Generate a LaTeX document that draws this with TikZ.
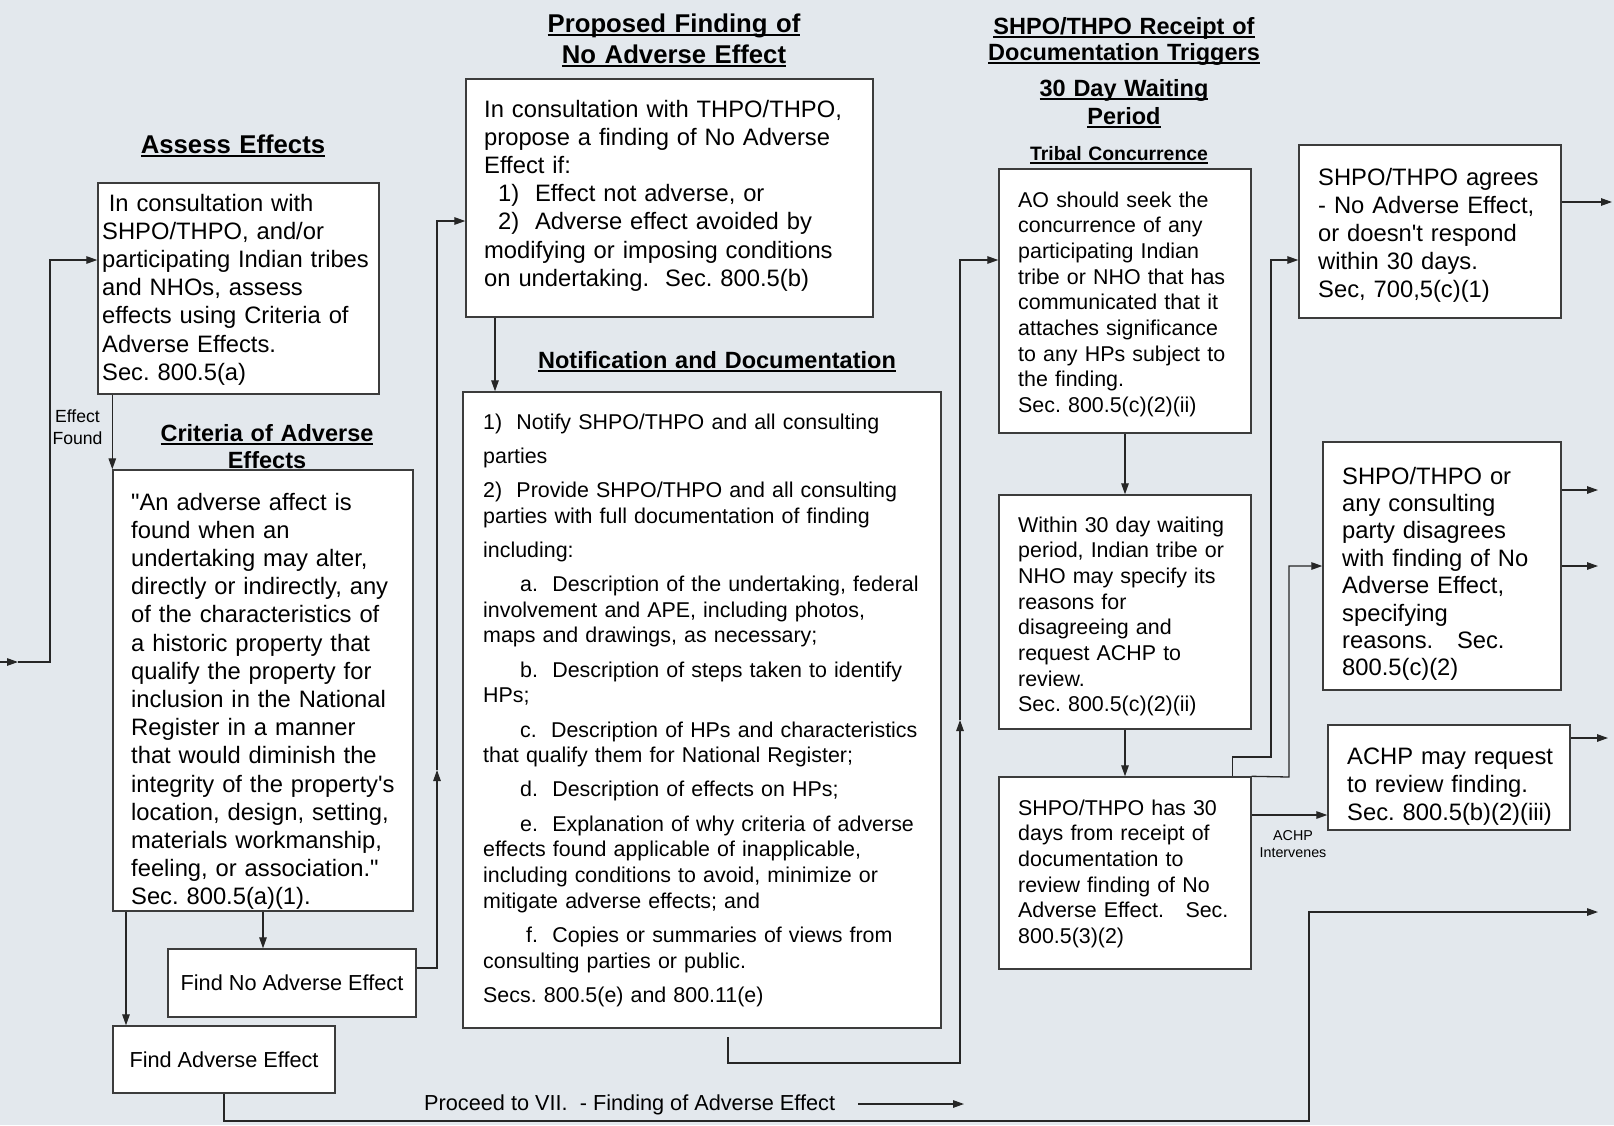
\documentclass[tikz,border=0pt]{standalone}
\usepackage{fontspec}
\setmainfont{Liberation Sans}
\usetikzlibrary{arrows.meta}
\definecolor{bgc}{RGB}{227,232,237}
\definecolor{edge}{RGB}{60,60,60}
\newlength\hulw
% underlined heading line, rule set close to the baseline
\newcommand\hul[1]{\leavevmode\settowidth{\hulw}{#1}\rlap{\rule[-3.6pt]{\hulw}{1.9pt}}#1}
\newcommand\sq{\textquotesingle}
\newcommand\dq{\textquotedbl}

\begin{document}
\frenchspacing
\begin{tikzpicture}[x=1pt,y=-1pt,
  box/.style={draw=edge, line width=1.4pt, fill=white, rectangle, inner sep=0pt},
  arr/.style={line width=1.3pt, draw=black!85, -{Triangle[length=11pt,width=7.5pt]}},
  body/.style={anchor=base west, inner sep=0pt, align=left, font=\fontsize{23.75}{28.2}\selectfont},
  small/.style={anchor=base west, inner sep=0pt, align=left, font=\fontsize{21.4}{25.7}\selectfont},
  head/.style={anchor=base, inner sep=0pt, align=center, text width=420pt, font=\fontsize{23.5}{26.6}\selectfont\bfseries},
  bighead/.style={anchor=base, inner sep=0pt, align=center, text width=420pt, font=\fontsize{25.7}{31}\selectfont\bfseries},
  note/.style={anchor=base, inner sep=0pt, align=center, text width=120pt},
]
% canvas
\fill[bgc] (0,0) rectangle (1614,1125);
\useasboundingbox (0,0) rectangle (1614,1125);

% ---------- headings ----------
\node[bighead] (assessH) at (233,153) {\hul{Assess Effects}};
\node[bighead] (propH) at (674,32) {\hul{Proposed Finding of}\\\hul{No Adverse Effect}};
\node[head] (critH) at (267,441.7) {\hul{Criteria of Adverse}\\\hul{Effects}};
\node[head] (notifH) at (717,368.3) {\hul{Notification and Documentation}};
\node[head, font=\fontsize{23.5}{26}\selectfont\bfseries] (recH) at (1124,34) {\hul{SHPO/THPO Receipt of}\\\hul{Documentation Triggers}};
\node[head, font=\fontsize{23.5}{27.3}\selectfont\bfseries] (waitH) at (1124,96.7) {\hul{30 Day Waiting}\\\hul{Period}};
\node[head, font=\fontsize{19.4}{23}\selectfont\bfseries] (tribH) at (1119,160.7) {\hul{Tribal Concurrence}};

% ---------- boxes ----------
\node[box, minimum width=281pt, minimum height=211pt] (box1) at (238.5,288.5) {};
\node[box, minimum width=300pt, minimum height=441pt] (crit) at (263,690.5) {};
\node[box, minimum width=248pt, minimum height=68pt, font=\fontsize{21.7}{25.7}\selectfont] (fna) at (292,983) {Find No Adverse Effect};
\node[box, minimum width=222pt, minimum height=67pt, font=\fontsize{21.7}{25.7}\selectfont] (fa) at (224,1059.5) {Find Adverse Effect};
\node[box, minimum width=407pt, minimum height=238pt] (prop) at (669.5,198) {};
\node[box, minimum width=478pt, minimum height=636pt] (notif) at (702,710) {};
\node[box, minimum width=252pt, minimum height=264pt] (tribal) at (1125,301) {};
\node[box, minimum width=252pt, minimum height=234pt] (within) at (1125,612) {};
\node[box, minimum width=252pt, minimum height=192pt] (box30) at (1125,873) {};
\node[box, minimum width=262pt, minimum height=173pt] (agrees) at (1430,231.5) {};
\node[box, minimum width=238pt, minimum height=248pt] (disagree) at (1442,566) {};
\node[box, minimum width=242pt, minimum height=105pt] (achp) at (1449,777.5) {};

% ---------- box texts ----------
\node[body, text width=272pt] (box1T) at (102,211) {\hspace*{6.6pt}In consultation with\\
SHPO/THPO, and/or\\
participating Indian tribes\\
and NHOs, assess\\
effects using Criteria of\\
Adverse Effects.\\
Sec. 800.5(a)};

\node[body, text width=276pt] (critT) at (131,510) {\dq An adverse affect is\\
found when an\\
undertaking may alter,\\
directly or indirectly, any\\
of the characteristics of\\
a historic property that\\
qualify the property for\\
inclusion in the National\\
Register in a manner\\
that would diminish the\\
integrity of the property\sq s\\
location, design, setting,\\
materials workmanship,\\
feeling, or association.\dq\\
Sec. 800.5(a)(1).};

\node[body, text width=385pt] (propT) at (484,117) {In consultation with THPO/THPO,\\
propose a finding of No Adverse\\
Effect if:\\
\hspace*{14pt}1)\ \ Effect not adverse, or\\
\hspace*{14pt}2)\ \ Adverse effect avoided by\\
modifying or imposing conditions\\
on undertaking.\ \ Sec. 800.5(b)};

\node[small, text width=455pt] (notifT) at (483,429) {1)\ \ Notify SHPO/THPO and all consulting\\[8.5pt]
parties\\[8.5pt]
2)\ \ Provide SHPO/THPO and all consulting\\
parties with full documentation of finding\\[8.5pt]
including:\\[8.5pt]
\hspace*{37pt}a.\ \ Description of the undertaking, federal\\
involvement and APE, including photos,\\
maps and drawings, as necessary;\\[8.5pt]
\hspace*{37pt}b.\ \ Description of steps taken to identify\\
HPs;\\[8.5pt]
\hspace*{37pt}c.\ \ Description of HPs and characteristics\\
that qualify them for National Register;\\[8.5pt]
\hspace*{37pt}d.\ \ Description of effects on HPs;\\[8.5pt]
\hspace*{37pt}e.\ \ Explanation of why criteria of adverse\\
effects found applicable of inapplicable,\\
including conditions to avoid, minimize or\\
mitigate adverse effects; and\\[8.5pt]
\hspace*{43pt}f.\ \ Copies or summaries of views from\\
consulting parties or public.\\[8.5pt]
Secs. 800.5(e) and 800.11(e)};

\node[small, text width=230pt] (tribalT) at (1018,207) {AO should seek the\\
concurrence of any\\
participating Indian\\
tribe or NHO that has\\
communicated that it\\
attaches significance\\
to any HPs subject to\\
the finding.\\
Sec. 800.5(c)(2)(ii)};

\node[small, text width=230pt] (withinT) at (1018,532) {Within 30 day waiting\\
period, Indian tribe or\\
NHO may specify its\\
reasons for\\
disagreeing and\\
request ACHP to\\
review.\\
Sec. 800.5(c)(2)(ii)};

\node[small, text width=230pt] (box30T) at (1018,815) {SHPO/THPO has 30\\
days from receipt of\\
documentation to\\
review finding of No\\
Adverse Effect.\ \ \ Sec.\\
800.5(3)(2)};

\node[body, font=\fontsize{23.75}{28}\selectfont, text width=240pt] (agreesT) at (1318,185) {SHPO/THPO agrees\\
- No Adverse Effect,\\
or doesn\sq t respond\\
within 30 days.\\
Sec, 700,5(c)(1)};

\node[body, font=\fontsize{23.75}{27.4}\selectfont, text width=216pt] (disagreeT) at (1342,484) {SHPO/THPO or\\
any consulting\\
party disagrees\\
with finding of No\\
Adverse Effect,\\
specifying\\
reasons.\ \ \ Sec.\\
800.5(c)(2)};

\node[body, font=\fontsize{23.75}{28}\selectfont, text width=222pt] (achpT) at (1347,764) {ACHP may request\\
to review finding.\\
Sec. 800.5(b)(2)(iii)};

% ---------- small labels ----------
\node[note, font=\fontsize{17.6}{21.6}\selectfont] (effL) at (77.5,422.7) {Effect\\Found};
\node[note, font=\fontsize{14.3}{17}\selectfont] (achpL) at (1293,840) {ACHP\\Intervenes};
\node[anchor=base west, inner sep=0pt, font=\fontsize{21.7}{25.7}\selectfont] (proceed) at (424,1110) {Proceed to VII.\ \ - Finding of Adverse Effect};

% ---------- routing points ----------
\coordinate (inL) at (0,662);
\coordinate (inM) at (18,662);
\coordinate (inC) at (50,662);
\coordinate (c263) at (263,0);
\coordinate (c126) at (126,0);
\coordinate (c495) at (495,0);
\coordinate (upA) at (437,770);
\coordinate (nd1) at (728,1037);
\coordinate (nd2) at (728,1063);
\coordinate (upB) at (960,720);
\coordinate (r2) at (1271,757);
\coordinate (r3) at (1289,777);
\coordinate (a815) at ([yshift=58pt]box30.east);
\coordinate (outA) at (1612,202);
\coordinate (outB1) at (1598,490);
\coordinate (outB2) at (1598,566);
\coordinate (outC) at (1608,738);
\coordinate (b2) at (1309,1121);
\coordinate (outD) at (1598,912);
\coordinate (pr1) at (858,1104);
\coordinate (pr2) at (964,1104);

% ---------- connectors ----------
\draw[arr] (inL) -- (inM);
\draw[arr] (inM) -- (inC) |- ([yshift=28.5pt]box1.west);
\draw[arr] (box1.south -| crit.north west) -- (crit.north west);
\draw[arr] (crit.south -| c263) -- (fna.north -| c263);
\draw[arr] (crit.south -| c126) -- (fa.north -| c126);
\draw[arr] ([yshift=15pt]fna.east) -| (upA);
\draw[arr] (upA) |- ([yshift=-23pt]prop.west);
\draw[arr] (prop.south -| c495) -- (notif.north -| c495);
\draw[arr] (nd1) -- (nd2) -| (upB);
\draw[arr] (upB) |- ([yshift=41pt]tribal.west);
\draw[arr] (tribal) -- (within);
\draw[arr] (within) -- (box30);
\draw[arr] ([xshift=-19pt]box30.north east) |- (r2) |- ([yshift=-28.5pt]agrees.west);
\draw[arr] (box30.north east) -- (r3) |- (disagree.west);
\draw[arr] (a815) -- (a815 -| achp.west);
\draw[arr] ([yshift=29.5pt]agrees.east) -- (outA);
\draw[arr] ([yshift=76pt]disagree.east) -- (outB1);
\draw[arr] (disagree.east) -- (outB2);
\draw[arr] ([yshift=39.5pt]achp.east) -- (outC);
\draw[arr] (fa.south) |- (b2) |- (outD);
\draw[arr] (pr1) -- (pr2);
\end{tikzpicture}
\end{document}
